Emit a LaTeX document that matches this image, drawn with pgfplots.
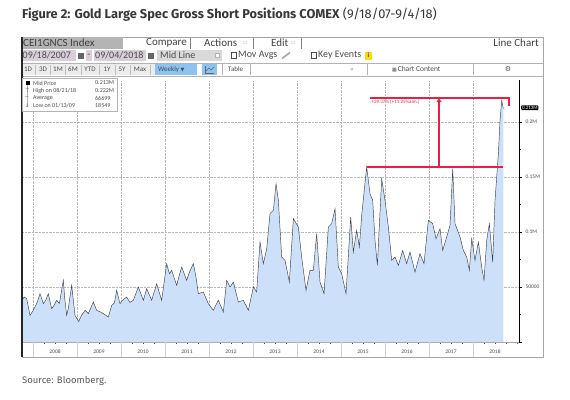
\documentclass[border=0pt]{standalone}
\usepackage{fontspec}
\setmainfont{Fira Sans}
\newfontfamily\bbg{Carlito}
\newfontfamily\sym{DejaVu Sans}
\usepackage{pgfplots}
\usepackage{pgfplotstable}
\pgfplotsset{compat=1.18}

\definecolor{areafill}{RGB}{204,224,250}
\definecolor{lineclr}{RGB}{60,65,75}
\definecolor{annred}{RGB}{235,30,70}
\definecolor{titleclr}{RGB}{55,55,55}
\definecolor{fieldbg}{RGB}{216,206,216}
\definecolor{greybox}{RGB}{180,180,180}
\definecolor{wkblue}{RGB}{140,195,240}
\definecolor{btnbg}{RGB}{236,236,236}

\pgfplotstableread{
t v
2007.750 37900
2007.800 41000
2007.856 39400
2007.932 24200
2008.000 28500
2008.045 31800
2008.100 36500
2008.159 43900
2008.235 34800
2008.290 38000
2008.348 43900
2008.424 30300
2008.480 33500
2008.538 37900
2008.600 35000
2008.689 56100
2008.720 40000
2008.765 24200
2008.800 30000
2008.879 51500
2008.955 24200
2009.038 18549
2009.100 24000
2009.182 28800
2009.258 25800
2009.371 36400
2009.447 28800
2009.520 27500
2009.598 25800
2009.712 22700
2009.788 33300
2009.850 35500
2009.902 47000
2009.977 34800
2010.050 38500
2010.129 40900
2010.200 36000
2010.280 37900
2010.394 50000
2010.450 44000
2010.508 37900
2010.583 48500
2010.697 37900
2010.811 53000
2010.870 45000
2010.924 37900
2011.038 71200
2011.100 62000
2011.152 65200
2011.265 51500
2011.320 60000
2011.379 68200
2011.492 56100
2011.560 64000
2011.644 71200
2011.700 60000
2011.758 43900
2011.871 45500
2011.985 34800
2012.098 28800
2012.212 37900
2012.326 27300
2012.402 56100
2012.480 50000
2012.553 54500
2012.667 36400
2012.780 37900
2012.894 28800
2013.008 50000
2013.083 45500
2013.159 90900
2013.235 71200
2013.311 84800
2013.386 116700
2013.462 119700
2013.523 143900
2013.576 128800
2013.652 77300
2013.727 74200
2013.826 54500
2013.917 112100
2014.030 104500
2014.106 77300
2014.205 47000
2014.295 65200
2014.371 65200
2014.447 98500
2014.523 54500
2014.614 43900
2014.712 104500
2014.788 107600
2014.864 121200
2014.939 68200
2015.015 62100
2015.114 43900
2015.220 113600
2015.280 81800
2015.356 101500
2015.417 86400
2015.470 115200
2015.583 159100
2015.659 134800
2015.720 128800
2015.773 92400
2015.826 69700
2015.924 148500
2016.000 128800
2016.076 104500
2016.152 74200
2016.227 77300
2016.303 69700
2016.402 83300
2016.492 71200
2016.568 81800
2016.682 63600
2016.795 80300
2016.886 71200
2016.985 110600
2017.083 107600
2017.159 93900
2017.250 103000
2017.311 83300
2017.402 95500
2017.477 106100
2017.538 157600
2017.591 107600
2017.705 95500
2017.780 83300
2017.856 77300
2017.917 65200
2017.970 93900
2018.045 74200
2018.121 90900
2018.197 68200
2018.250 56100
2018.311 92400
2018.371 107600
2018.447 72700
2018.500 128800
2018.576 171200
2018.614 201500
2018.652 219700
2018.689 212100
}\gold

\begin{document}
\begin{tikzpicture}[x=1pt,y=1pt]
\path[use as bounding box] (0,0) rectangle (570,-399);

% title
\node[anchor=base west, inner sep=0, text=titleclr, font=\fontsize{12.8}{14}\selectfont] at (22,-18)
  {\textbf{Figure 2: Gold Large Spec Gross Short Positions COMEX} (9/18/07-9/4/18)};

% panel
\draw[gray!70, line width=0.6] (22,-37) rectangle (543,-357);

% toolbar row 1
\fill[greybox] (22,-37) rectangle (123,-49);
\begin{scope}[font=\bbg\fontsize{11}{12}\selectfont, text=black!75]
\node[anchor=west, inner sep=0] at (23,-43) {CEI1GNCS Index};
\node[anchor=east, inner sep=0] at (187,-43) {Compare};
\draw[gray] (190,-38) -- (190,-49);
\node[anchor=west, inner sep=0] at (204,-43) {Actions};
\node[anchor=west, inner sep=0, text=gray!60] at (243,-43) {\sym\fontsize{6}{6}\selectfont ▫};
\draw[gray] (253,-38) -- (253,-49);
\node[anchor=west, inner sep=0] at (271,-43) {Edit};
\node[anchor=west, inner sep=0, text=gray!60] at (291,-43) {\sym\fontsize{6}{6}\selectfont ▫};
\draw[gray] (301,-38) -- (301,-49);
\node[anchor=east, inner sep=0] at (539,-43) {Line Chart};
\end{scope}

% toolbar row 2
\begin{scope}[font=\bbg\fontsize{10}{11}\selectfont, text=black!70]
\fill[fieldbg] (22,-50) rectangle (76,-61);
\node[anchor=west, inner sep=0] at (22.5,-55.5) {09/18/2007};
\fill[black!60] (77.5,-52.5) rectangle (83.5,-58.5);
\fill[fieldbg] (86,-50) rectangle (92,-61);
\node[inner sep=0] at (89,-55.5) {-};
\fill[fieldbg] (94,-50) rectangle (146,-61);
\node[anchor=west, inner sep=0] at (95,-55.5) {09/04/2018};
\fill[black!60] (147.5,-52.5) rectangle (153.5,-58.5);
\fill[gray!30] (157,-50) rectangle (222,-61);
\node[anchor=west, inner sep=0] at (160,-55.5) {Mid Line};
\draw[gray!60, fill=white] (215,-53.5) rectangle (219,-57.5);
\draw[black!70] (231,-52.5) rectangle (236,-58.5);
\node[anchor=west, inner sep=0] at (238,-55.5) {Mov Avgs};
\draw[gray!70, line width=1.6] (282,-58.5) -- (290,-52.5);
\draw[black!70] (311,-52.5) rectangle (316,-58.5);
\node[anchor=west, inner sep=0] at (318,-55.5) {Key Events};
\fill[yellow!80!orange] (365,-51.5) rectangle (372,-59.5);
\node[inner sep=0, font=\bbg\bfseries\fontsize{7}{7}\selectfont] at (368.5,-55.5) {i};
\end{scope}

% toolbar row 3
\begin{scope}[font=\bbg\fontsize{7}{8}\selectfont, text=black!70]
\draw[gray!60] (22,-63) -- (543,-63);
\draw[gray!60] (22,-76) -- (543,-76);
\fill[btnbg] (22,-64) rectangle (155,-75);
\node[inner sep=0] at (28,-69.5) {1D};
\node[inner sep=0] at (43,-69.5) {3D};
\node[inner sep=0] at (58,-69.5) {1M};
\node[inner sep=0] at (73,-69.5) {6M};
\node[inner sep=0] at (90,-69.5) {YTD};
\node[inner sep=0] at (107,-69.5) {1Y};
\node[inner sep=0] at (122,-69.5) {5Y};
\node[inner sep=0] at (140,-69.5) {Max};
\foreach \s in {35,50,65,81,99,115,130,150}{\draw[gray!50] (\s,-64.5) -- (\s,-74.5);}
\fill[wkblue] (155,-64) rectangle (197,-75);
\node[anchor=west, inner sep=0] at (158,-69.5) {Weekly \sym\fontsize{5}{5}\selectfont ▼};
\fill[wkblue] (202,-64) rectangle (217,-75);
\draw[black!60] (205,-66) -- (205,-73) -- (214,-73);
\draw[black!60] (206,-71) -- (209,-68) -- (211,-70) -- (214,-67);
\draw[gray!60] (222,-64) -- (222,-75);
\node[anchor=west, inner sep=0] at (228,-69.5) {Table};
\draw[gray!60] (250,-64) -- (250,-75);
\node[inner sep=0, text=gray] at (352,-69.5) {\sym\fontsize{6}{6}\selectfont «};
\draw[gray!60] (367,-64) -- (367,-75);
\node[anchor=west, inner sep=0] at (392,-69.5) {\sym\fontsize{5}{5}\selectfont ▦\,\bbg\fontsize{7.5}{8}\selectfont Chart Content};
\draw[gray!60] (473,-64) -- (473,-75);
\node[inner sep=0, text=black!70] at (508,-69.5) {\sym\fontsize{7}{7}\selectfont ⚙};
\end{scope}

\begin{axis}[
  at={(22pt,-342pt)}, anchor=south west, scale only axis,
  width=497pt, height=261.8pt,
  xmin=2007.75, xmax=2019.045, ymin=0, ymax=238000,
  axis x line*=bottom, axis y line*=right,
  axis line style={-},
  x axis line style={gray!70, line width=0.5},
  y axis line style={black, line width=0.6},
  xtick={2008.5,2009.5,...,2018.5},
  xticklabels={2008,2009,2010,2011,2012,2013,2014,2015,2016,2017,2018},
  major x tick style={draw=none},
  minor xtick={2007.75,2008,...,2019},
  minor x tick style={black!70, line width=0.4},
  extra x ticks={2008,2009,...,2018},
  extra x tick labels={},
  extra x tick style={grid=major},
  ytick={0,50000,100000,150000,200000},
  yticklabels={,50000,0.1M,0.15M,0.2M},
  minor y tick num=1,
  ymajorgrids,
  major grid style={densely dotted, gray!55, line width=0.4},
  scaled y ticks=false,
  tick align=outside,
  major tick length=3pt, minor tick length=1.8pt,
  y tick style={black, line width=0.5},
  tick label style={font=\bbg\fontsize{5.5}{6}\selectfont, text=black!70},
  xticklabel style={yshift=-1.5pt},
  clip=false,
]
\addplot[fill=areafill, draw=none] table[x=t,y=v]{\gold} \closedcycle;
\addplot[draw=lineclr, line width=0.45] table[x=t,y=v]{\gold};

\pgfplotsinvokeforeach{2008,2009,...,2018}{\draw[gray!35, line width=0.5] (axis cs:#1,0) -- ++(0pt,-15pt);}

\coordinate (L1a) at (axis cs:2015.583,159000);
\coordinate (L1b) at (axis cs:2018.68,159000);
\coordinate (L2a) at (axis cs:2015.66,222000);
\coordinate (L2b) at (axis cs:2018.82,222000);
\coordinate (L2c) at (axis cs:2018.82,215000);
\coordinate (Aa) at (axis cs:2017.227,159000);
\coordinate (Ab) at (axis cs:2017.227,222000);
\coordinate (Tx) at (axis cs:2015.68,221000);
\coordinate (Mk) at (axis cs:2019.045,213000);
\end{axis}

% annotation (red), drawn as filled shapes
\fill[annred] ([yshift=0.8pt]L1a) rectangle ([yshift=-0.8pt]L1b);
\fill[annred] ([yshift=0.8pt]L2a) rectangle ([yshift=-0.8pt]L2b);
\fill[annred] ([xshift=-0.8pt,yshift=0.8pt]L2b) rectangle ([xshift=0.8pt]L2c);
\fill[annred] ([xshift=-0.7pt]Aa) rectangle ([xshift=0.7pt,yshift=-3pt]Ab);
\fill[annred] ([yshift=-0.3pt]Ab) -- ([xshift=-2.5pt,yshift=-4.2pt]Ab) -- ([xshift=2.5pt,yshift=-4.2pt]Ab) -- cycle;
\node[anchor=north west, inner sep=0.5pt, text=annred, font=\bbg\fontsize{5}{5}\selectfont] at (Tx) {+39.37\% (+11.25\%ann.)};
\node[anchor=west, fill=black, text=white, rounded corners=1pt, inner sep=0.8pt, xshift=2pt, font=\bbg\fontsize{5}{5}\selectfont] at (Mk) {0.213M};

% left border
\draw[black!85, line width=1.2] (22,-37) -- (22,-357);

% legend box
\draw[gray!60, fill=white] (22,-78) rectangle (117,-111);
\begin{scope}[font=\bbg\fontsize{6}{6}\selectfont, text=black!70]
\draw[gray!60] (27.5,-85) -- (27.5,-106);
\fill[black] (25.5,-81) rectangle (29.5,-85);
\node[anchor=west, inner sep=0] at (33,-83) {Mid Price};
\node[anchor=west, inner sep=0] at (95,-83) {0.213M};
\node[anchor=west, inner sep=0] at (25,-90.5) {\sym\fontsize{5}{5}\selectfont ⊤};
\node[anchor=west, inner sep=0] at (33,-90.5) {High on 08/21/18};
\node[anchor=west, inner sep=0] at (95,-90.5) {0.222M};
\node[anchor=west, inner sep=0] at (25,-98) {--};
\node[anchor=west, inner sep=0] at (33,-98) {Average};
\node[anchor=west, inner sep=0] at (95,-98) {66699};
\node[anchor=west, inner sep=0] at (25,-105.5) {\sym\fontsize{5}{5}\selectfont ↓};
\node[anchor=west, inner sep=0] at (33,-105.5) {Low on 01/13/09};
\node[anchor=west, inner sep=0] at (95,-105.5) {18549};
\end{scope}

% source
\node[anchor=west, inner sep=0, text=black!65, font=\fontsize{9.5}{11}\selectfont] at (22,-381) {Source: Bloomberg.};
\end{tikzpicture}
\end{document}
